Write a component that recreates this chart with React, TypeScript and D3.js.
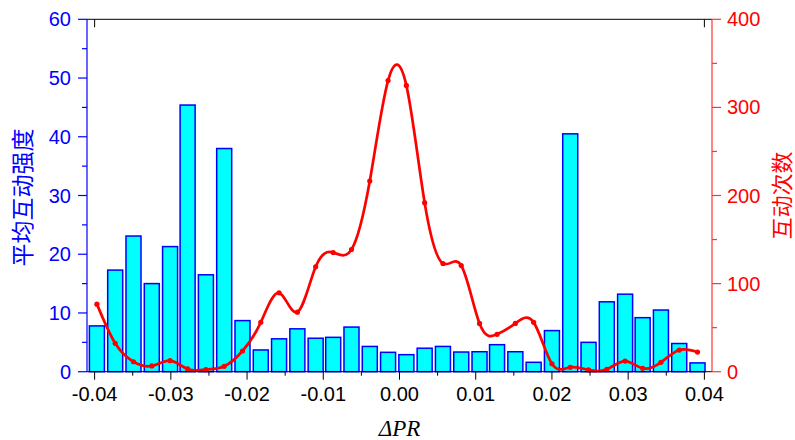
import React from 'react';
import * as d3 from 'd3';

// bin centres (ΔPR)
const binCenters = [
  -0.0397, -0.0373, -0.0349, -0.0325, -0.0301, -0.0278, -0.0254, -0.023, -0.0206, -0.0182,
  -0.0158, -0.0134, -0.011, -0.0087, -0.0063, -0.0039, -0.0015, 0.0009, 0.0033, 0.0057,
  0.0081, 0.0105, 0.0128, 0.0152, 0.0176, 0.02, 0.0224, 0.0248, 0.0272, 0.0296,
  0.0319, 0.0343, 0.0367, 0.0391,
];

// 平均互动强度 (left axis, bars)
const avgIntensity = [
  7.8, 17.3, 23.1, 15.0, 21.3, 45.4, 16.5, 38.0, 8.7, 3.7,
  5.6, 7.3, 5.7, 5.85, 7.6, 4.3, 3.3, 2.9, 4.0, 4.3,
  3.35, 3.4, 4.6, 3.4, 1.6, 7.0, 40.5, 5.0, 11.9, 13.2,
  9.2, 10.5, 4.8, 1.5,
];

// 互动次数 (right axis, line)
const interactionCount = [
  76.7, 32.2, 11.3, 6.5, 12.5, 3.1, 2.3, 6.1, 23.5, 56,
  89.5, 67.6, 119, 135.3, 138.7, 216.4, 330.5, 325, 191.8, 122.8,
  120.5, 54.8, 42.4, 54.8, 56, 9, 5, 2, 2.7, 12.1,
  3.8, 10.6, 24.6, 22.3,
];

const xTicks = [-0.04, -0.03, -0.02, -0.01, 0, 0.01, 0.02, 0.03, 0.04];
const xTickLabels = ['-0.04', '-0.03', '-0.02', '-0.01', '0.00', '0.01', '0.02', '0.03', '0.04'];
const xMinorTicks = [-0.035, -0.025, -0.015, -0.005, 0.005, 0.015, 0.025, 0.035];
const leftTicks = [0, 10, 20, 30, 40, 50, 60];
const leftMinor = [5, 15, 25, 35, 45, 55];
const rightTicks = [0, 100, 200, 300, 400];
const rightMinor = [50, 150, 250, 350];

const W = 795;
const H = 440;
const plot = { left: 87, right: 712, top: 19.3, bottom: 371.7 };
const barWidth = 0.00197;

const BLUE = '#0000FF';
const RED = '#FF0000';
const RED_AXIS = '#FF3535';
const tickFont = '"Liberation Sans", Arial, sans-serif';
const cjkFont = '"Noto Sans CJK SC", sans-serif';

export default function App() {
  const x = d3.scaleLinear().domain([-0.041, 0.041]).range([plot.left, plot.right]);
  const yL = d3.scaleLinear().domain([0, 60]).range([plot.bottom, plot.top]);
  const yR = d3.scaleLinear().domain([0, 400]).range([plot.bottom, plot.top]);

  const pts = binCenters.map((c, i) => ({ x: c, v: interactionCount[i] }));
  const line = d3
    .line<{ x: number; v: number }>()
    .x((d) => x(d.x))
    .y((d) => yR(d.v))
    .curve(d3.curveNatural);

  return (
    <svg width={W} height={H} style={{ position: 'absolute', left: 0, top: 0, background: '#fff' }}>
      {/* bars */}
      <g>
        {binCenters.map((c, i) => {
          const x0 = x(c - barWidth / 2);
          const x1 = x(c + barWidth / 2);
          const yTop = yL(avgIntensity[i]);
          return (
            <rect
              key={i}
              x={x0}
              y={yTop}
              width={x1 - x0}
              height={plot.bottom - yTop}
              fill="#00FFFF"
              stroke={BLUE}
              strokeWidth={1.5}
            />
          );
        })}
      </g>

      {/* line */}
      <path d={line(pts) || ''} fill="none" stroke={RED} strokeWidth={2.7} />
      {pts.map((d, i) => (
        <circle key={i} cx={x(d.x)} cy={yR(d.v)} r={2.6} fill={RED} />
      ))}

      {/* top frame */}
      <line x1={plot.left} x2={plot.right} y1={plot.top} y2={plot.top} stroke="#000" strokeWidth={1} />
      {[xTicks[0], xTicks[xTicks.length - 1]].map((t, i) => (
        <line key={i} x1={x(t)} x2={x(t)} y1={plot.top} y2={plot.top + 8} stroke="#000" strokeWidth={1} />
      ))}

      {/* bottom axis */}
      <line x1={plot.left} x2={plot.right} y1={plot.bottom} y2={plot.bottom} stroke="#000" strokeWidth={1} />
      {xTicks.map((t, i) => (
        <g key={i}>
          <line x1={x(t)} x2={x(t)} y1={plot.bottom} y2={plot.bottom + 8} stroke="#000" strokeWidth={1} />
          <text
            x={x(t)}
            y={plot.bottom + 29}
            textAnchor="middle"
            fontFamily={tickFont}
            fontSize={20}
            fill="#000"
          >
            {xTickLabels[i]}
          </text>
        </g>
      ))}
      {xMinorTicks.map((t, i) => (
        <line key={i} x1={x(t)} x2={x(t)} y1={plot.bottom} y2={plot.bottom + 4} stroke="#000" strokeWidth={1} />
      ))}
      <text
        x={x(0)}
        y={436}
        textAnchor="middle"
        fontFamily='"Liberation Serif", "Times New Roman", serif'
        fontStyle="italic"
        fontSize={23}
        fill="#000"
      >
        ΔPR
      </text>

      {/* left axis */}
      <line x1={plot.left} x2={plot.left} y1={plot.top} y2={plot.bottom} stroke={BLUE} strokeWidth={1.2} />
      {leftTicks.map((t) => (
        <g key={t}>
          <line x1={plot.left - 9} x2={plot.left} y1={yL(t)} y2={yL(t)} stroke={BLUE} strokeWidth={1.2} />
          <text
            x={71}
            y={yL(t) + 7}
            textAnchor="end"
            fontFamily={tickFont}
            fontSize={20}
            fill={BLUE}
          >
            {t}
          </text>
        </g>
      ))}
      {leftMinor.map((t) => (
        <line key={t} x1={plot.left - 5} x2={plot.left} y1={yL(t)} y2={yL(t)} stroke={BLUE} strokeWidth={1.2} />
      ))}
      <text
        transform={`translate(31,${(plot.top + plot.bottom) / 2 + 2}) rotate(-90)`}
        textAnchor="middle"
        fontFamily={cjkFont}
        fontSize={23}
        fill={BLUE}
      >
        平均互动强度
      </text>

      {/* right axis */}
      <line x1={plot.right} x2={plot.right} y1={plot.top} y2={plot.bottom} stroke={RED_AXIS} strokeWidth={1.2} />
      {rightTicks.map((t) => (
        <g key={t}>
          <line x1={plot.right} x2={plot.right + 9} y1={yR(t)} y2={yR(t)} stroke={RED_AXIS} strokeWidth={1.2} />
          <text
            x={727}
            y={yR(t) + 7}
            textAnchor="start"
            fontFamily={tickFont}
            fontSize={20}
            fill={RED}
          >
            {t}
          </text>
        </g>
      ))}
      {rightMinor.map((t) => (
        <line key={t} x1={plot.right} x2={plot.right + 5} y1={yR(t)} y2={yR(t)} stroke={RED_AXIS} strokeWidth={1.2} />
      ))}
      <text
        transform={`translate(790,${(plot.top + plot.bottom) / 2}) rotate(-90)`}
        textAnchor="middle"
        fontFamily={cjkFont}
        fontSize={22}
        fill={RED}
      >
        互动次数
      </text>
    </svg>
  );
}
